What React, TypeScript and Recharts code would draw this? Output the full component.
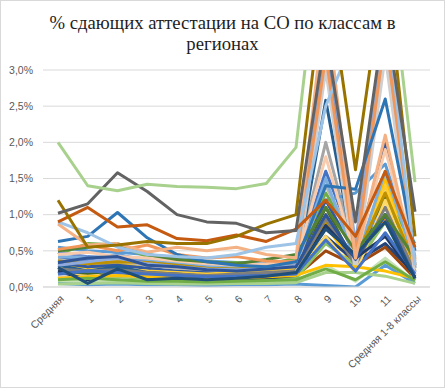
import React from 'react';
import { LineChart, Line, XAxis, YAxis, CartesianGrid } from 'recharts';

const categories = ['Средняя', '1', '2', '3', '4', '5', '6', '7', '8', '9', '10', '11', 'Средняя 1-8 классы'];

const yTicks = [0, 0.5, 1, 1.5, 2, 2.5, 3];

// values in percent: [avg, 1..11, avg 1-8]
const seriesValues: number[][] = [
  [0.40, 0.38, 0.45, 0.35, 0.30, 0.28, 0.26, 0.30, 0.35, 1.60, 0.55, 1.30, 0.33],
  [0.22, 0.18, 0.20, 0.16, 0.14, 0.12, 0.15, 0.18, 0.20, 0.90, 0.25, 0.95, 0.17],
  [0.35, 0.30, 0.33, 0.27, 0.30, 0.26, 0.24, 0.28, 0.32, 2.00, 0.45, 3.60, 0.30],
  [0.32, 0.27, 0.30, 0.32, 0.26, 0.22, 0.24, 0.26, 0.30, 0.85, 0.28, 1.50, 0.28],
  [0.55, 0.50, 0.48, 0.45, 0.40, 0.36, 0.34, 0.33, 0.38, 1.20, 1.30, 1.70, 0.42],
  [0.45, 0.60, 0.58, 0.42, 0.36, 0.32, 0.34, 0.30, 0.40, 1.30, 0.60, 1.20, 0.60],
  [0.25, 0.20, 0.26, 0.14, 0.12, 0.10, 0.11, 0.14, 0.18, 0.70, 0.35, 0.60, 0.18],
  [0.15, 0.12, 0.16, 0.12, 0.10, 0.08, 0.10, 0.12, 0.15, 0.50, 0.30, 0.55, 0.12],
  [0.33, 0.28, 0.30, 0.26, 0.22, 0.20, 0.22, 0.24, 0.28, 1.20, 0.45, 2.00, 0.26],
  [0.20, 0.18, 0.22, 0.20, 0.18, 0.16, 0.14, 0.16, 0.20, 1.10, 0.30, 1.25, 0.22],
  [0.48, 0.42, 0.40, 0.38, 0.32, 0.30, 0.28, 0.26, 0.30, 3.40, 0.55, 1.10, 0.35],
  [0.38, 0.32, 0.36, 0.30, 0.26, 0.24, 0.22, 0.25, 0.30, 1.40, 0.60, 3.30, 0.32],
  [0.28, 0.22, 0.25, 0.22, 0.20, 0.18, 0.20, 0.22, 0.25, 1.00, 0.35, 1.40, 0.24],
  [0.42, 0.40, 0.44, 0.38, 0.34, 0.30, 0.28, 0.30, 0.32, 1.50, 0.35, 1.60, 0.36],
  [0.12, 0.10, 0.14, 0.12, 0.10, 0.08, 0.09, 0.10, 0.12, 0.60, 0.30, 0.90, 0.10],
  [0.30, 0.22, 0.28, 0.20, 0.18, 0.15, 0.16, 0.18, 0.22, 2.58, 0.35, 1.00, 0.20],
  [0.36, 0.32, 0.35, 0.34, 0.30, 0.26, 0.25, 0.28, 0.30, 0.90, 0.40, 1.30, 0.30],
  [0.30, 0.35, 0.40, 0.32, 0.28, 0.25, 0.24, 0.26, 0.30, 3.60, 0.60, 3.70, 0.28],
  [0.18, 0.15, 0.18, 0.16, 0.14, 0.12, 0.14, 0.15, 0.18, 0.70, 0.20, 1.20, 0.16],
  [0.25, 0.22, 0.24, 0.20, 0.18, 0.16, 0.18, 0.20, 0.22, 0.95, 0.30, 1.10, 0.20],
  [0.08, 0.06, 0.08, 0.07, 0.06, 0.05, 0.06, 0.07, 0.08, 0.30, 0.08, 0.40, 0.07],
  [0.15, 0.14, 0.16, 0.14, 0.12, 0.10, 0.12, 0.14, 0.16, 3.00, 0.20, 3.20, 0.15],
  [0.05, 0.03, 0.04, 0.03, 0.03, 0.02, 0.03, 0.03, 0.04, 0.02, 0.00, 0.30, 0.05],
  [0.45, 0.48, 0.42, 0.40, 0.36, 0.32, 0.30, 0.32, 0.35, 1.80, 0.40, 1.90, 0.36],
  [0.22, 0.10, 0.22, 0.12, 0.14, 0.12, 0.10, 0.12, 0.16, 0.85, 0.40, 0.70, 0.14],
  [0.04, 0.05, 0.06, 0.05, 0.04, 0.04, 0.05, 0.05, 0.06, 0.20, 0.20, 0.15, 0.05],
  [0.12, 0.14, 0.16, 0.14, 0.12, 0.10, 0.12, 0.14, 0.16, 0.30, 0.28, 0.22, 0.12],
  [0.18, 0.22, 0.20, 0.18, 0.16, 0.14, 0.15, 0.16, 0.18, 0.65, 0.22, 0.75, 0.18],
  [0.10, 0.12, 0.10, 0.08, 0.08, 0.07, 0.08, 0.09, 0.10, 0.25, 0.10, 0.35, 0.09],
  [0.34, 0.40, 0.42, 0.30, 0.28, 0.24, 0.22, 0.25, 0.28, 1.00, 0.38, 1.00, 0.12],
  [0.50, 0.55, 0.60, 0.45, 0.38, 0.35, 0.32, 0.38, 0.45, 1.10, 0.50, 1.00, 0.40],
  [0.27, 0.05, 0.25, 0.10, 0.12, 0.10, 0.12, 0.15, 0.20, 0.80, 0.45, 0.90, 0.12],
  [0.52, 0.58, 0.50, 0.58, 0.45, 0.40, 0.42, 0.36, 0.35, 3.20, 0.40, 3.50, 0.38],
  [0.63, 0.70, 1.03, 0.68, 0.45, 0.35, 0.30, 0.28, 0.35, 1.40, 1.35, 2.60, 0.50],
  [0.87, 0.58, 0.60, 0.48, 0.55, 0.50, 0.55, 0.45, 0.40, 4.00, 0.40, 2.10, 0.30],
  [0.90, 0.75, 0.55, 0.45, 0.42, 0.40, 0.45, 0.55, 0.60, 2.50, 3.50, 4.00, 0.30],
  [0.90, 1.10, 0.83, 0.86, 0.67, 0.64, 0.72, 0.63, 0.80, 1.20, 0.70, 1.60, 0.55],
  [1.20, 0.55, 0.58, 0.63, 0.60, 0.60, 0.70, 0.87, 1.00, 4.50, 1.62, 4.50, 0.70],
  [1.02, 1.15, 1.58, 1.32, 1.00, 0.90, 0.88, 0.75, 0.78, 3.50, 0.90, 3.80, 1.04],
  [2.00, 1.40, 1.33, 1.42, 1.39, 1.38, 1.36, 1.43, 1.93, 5.50, 4.00, 5.00, 1.45],
];

const seriesColors = [
  '#4472C4', '#ED7D31', '#A5A5A5', '#FFC000', '#5B9BD5', '#70AD47', '#264478', '#9E480E',
  '#335AA1', '#43682B', '#698ED0', '#B7B7B7', '#FFCD33', '#7CAFDD', '#8CC168', '#255E91',
  '#BF9000', '#8FAADC', '#FFD966', '#7F7F7F', '#C5E0B4', '#D0CECE', '#5B9BD5', '#F8CBAD',
  '#203864', '#A9D18E', '#FFC000', '#4472C4', '#70AD47', '#2F5597', '#548235', '#1F4E79',
  '#F1975A', '#2E75B6', '#F4B183', '#9DC3E6', '#C55A11', '#997300', '#636363', '#A9D18E',
];

const titleLines = ['% сдающих аттестации на СО по классам в', 'регионах'];

const data = categories.map((cat, i) => {
  const row: Record<string, any> = { cat };
  seriesValues.forEach((s, j) => {
    row['s' + j] = s[i];
  });
  return row;
});

const axisFont = '"Liberation Sans", Arial, sans-serif';

const XTick = (props: any) => {
  const { x, y, payload } = props;
  const ax = x + 4;
  const ay = y + 2;
  return (
    <text
      x={ax}
      y={ay}
      dy="0.35em"
      textAnchor="end"
      transform={`rotate(-45 ${ax} ${ay})`}
      fontSize={10.5}
      fill="#595959"
      fontFamily={axisFont}
    >
      {payload.value}
    </text>
  );
};

const fmt = (v: number) => v.toFixed(1).replace('.', ',') + '%';

export default function App() {
  return (
    <div style={{ position: 'absolute', left: 0, top: 0, width: 445, height: 388, background: '#fff', overflow: 'hidden' }}>
      <LineChart width={445} height={388} data={data} margin={{ top: 70, right: 15, bottom: 6, left: 8 }}>
        <CartesianGrid vertical={false} stroke="#D9D9D9" strokeWidth={1} />
        <XAxis
          dataKey="cat"
          interval={0}
          tickLine={false}
          axisLine={{ stroke: '#D9D9D9' }}
          padding={{ left: 15, right: 15 }}
          height={95}
          tick={<XTick />}
        />
        <YAxis
          domain={[0, 3]}
          ticks={yTicks}
          allowDataOverflow
          width={35}
          tickLine={false}
          axisLine={false}
          tickMargin={4}
          tickFormatter={fmt}
          tick={{ fontSize: 10.5, fill: '#595959', fontFamily: axisFont }}
        />
        {seriesValues.map((_, j) => (
          <Line
            key={j}
            dataKey={'s' + j}
            stroke={seriesColors[j]}
            strokeWidth={3}
            dot={false}
            isAnimationActive={false}
            strokeLinejoin="round"
          />
        ))}
      </LineChart>
      <svg width={445} height={60} style={{ position: 'absolute', left: 0, top: 0 }}>
        {titleLines.map((t, i) => (
          <text
            key={i}
            x={222.5}
            y={29 + i * 20.5}
            textAnchor="middle"
            fontFamily="Liberation Serif, Times New Roman, DejaVu Serif, serif"
            fontSize={18.7}
            fill="#1e1e1e"
          >
            {t}
          </text>
        ))}
      </svg>
      <div
        style={{
          position: 'absolute',
          left: 0,
          top: 0,
          width: 445,
          height: 388,
          boxSizing: 'border-box',
          border: '1px solid #D9D9D9',
          pointerEvents: 'none',
        }}
      />
    </div>
  );
}
